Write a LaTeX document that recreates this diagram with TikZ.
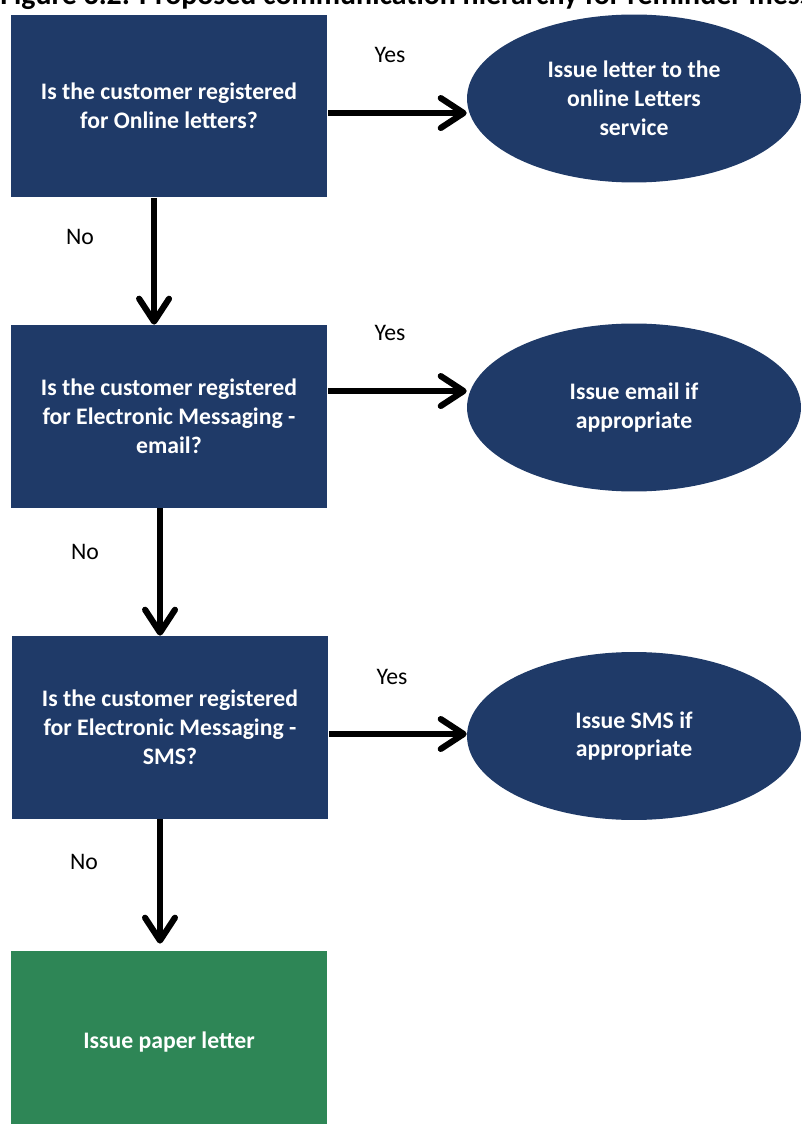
\documentclass[tikz,border=0pt]{standalone}
\usepackage{fontspec}
\setsansfont{Carlito}
\usetikzlibrary{arrows.meta, positioning, shapes.geometric}
\definecolor{msgnavy}{HTML}{1F3A68}
\definecolor{msggreen}{HTML}{2E8656}

\begin{document}
\begin{tikzpicture}[x=0.02cm, y=-0.02cm, font=\sffamily,
  question/.style={fill=msgnavy, text=white, font=\sffamily\bfseries\fontsize{13.5}{16.4}\selectfont, align=center, inner sep=0pt, minimum width=6.34cm, minimum height=3.66cm},
  outcome/.style={ellipse, fill=msgnavy, text=white, font=\sffamily\bfseries\fontsize{13.5}{16.4}\selectfont, align=center, inner sep=0pt, minimum width=6.68cm, minimum height=3.36cm},
  answer/.style={font=\sffamily\fontsize{13.5}{16.4}\selectfont, inner sep=0pt},
  flow/.style={line width=3.5pt, -{Straight Barb[length=13pt, width=17pt, round]}}]
  \useasboundingbox (0,0) rectangle (801,1124);
  \clip (0,0) rectangle (801,1124);
  \node[anchor=base west, inner sep=0pt, font=\sffamily\bfseries\fontsize{17}{20}\selectfont] (title) at (0,5) {Figure 3.2: Proposed communication hierarchy for reminder messages};
  % decisions down the left
  \node[question] (q1) at (169,106) {Is the customer registered\\for Online letters?};
  \node[question] (q2) at (169,416.5) {Is the customer registered\\for Electronic Messaging -\\email?};
  \node[question] (q3) at (170,727.5) {Is the customer registered\\for Electronic Messaging -\\SMS?};
  \node[question, fill=msggreen] (paper) at (169,1042.5) {Issue paper letter};
  % outcomes on the right
  \node[outcome] (o1) at (634,98.5) {Issue letter to the\\online Letters\\service};
  \node[outcome] (o2) at (634,407.5) {Issue email if\\appropriate};
  \node[outcome] (o3) at (634,736) {Issue SMS if\\appropriate};
  % yes branches
  \coordinate (y1) at ([yshift=-4pt]q1.east);
  \coordinate (y2) at ([yshift=14.5pt]q2.east);
  \coordinate (y3) at ([yshift=-3.7pt]q3.east);
  \draw[flow] (y1) -- (y1 -| o1.west);
  \draw[flow] (y2) -- (y2 -| o2.west);
  \draw[flow] (y3) -- (y3 -| o3.west);
  \node[answer] (yes1) at (390,55) {Yes};
  \node[answer] (yes2) at (390,333) {Yes};
  \node[answer] (yes3) at (392,677) {Yes};
  % no branches
  \coordinate (n1) at ([xshift=-8.5pt]q1.south);
  \coordinate (n2) at ([xshift=-5.1pt]q2.south);
  \coordinate (n3) at ([xshift=-5.7pt]q3.south);
  \draw[flow] (n1) -- (n1 |- q2.north);
  \draw[flow] (n2) -- (n2 |- q3.north);
  \draw[flow, shorten >=4pt] (n3) -- (n3 |- paper.north);
  \node[answer] (no1) at (80,237) {No};
  \node[answer] (no2) at (85,552) {No};
  \node[answer] (no3) at (84,862) {No};
\end{tikzpicture}
\end{document}
